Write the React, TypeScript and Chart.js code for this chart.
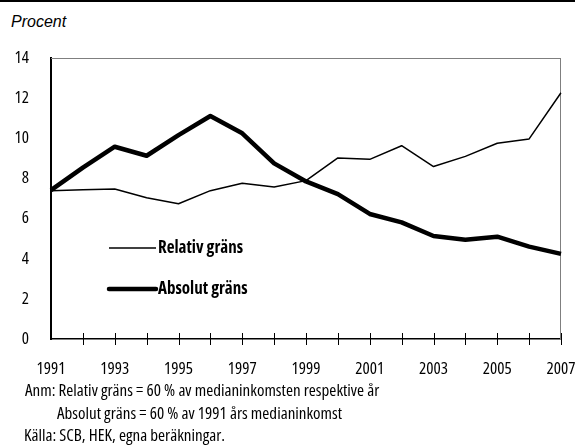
import React, { useEffect, useRef } from "react";
import { Chart, registerables } from "chart.js";

Chart.register(...registerables);

const years = ["1991","1992","1993","1994","1995","1996","1997","1998","1999","2000","2001","2002","2003","2004","2005","2006","2007"];
const relativ = [7.39, 7.44, 7.47, 7.04, 6.74, 7.39, 7.76, 7.57, 7.89, 9.02, 8.95, 9.63, 8.59, 9.1, 9.75, 9.97, 12.27];
const absolut = [7.42, 8.54, 9.58, 9.13, 10.16, 11.11, 10.25, 8.75, 7.85, 7.22, 6.23, 5.81, 5.13, 4.95, 5.1, 4.6, 4.24];
const seriesNames = ["Relativ gräns", "Absolut gräns"];
const yMin = 0;
const yMax = 14;
const yStep = 2;
const yAxisTitle = "Procent";
const notes = [
  "Anm: Relativ gräns = 60 % av medianinkomsten respektive år",
  "Absolut gräns = 60 % av 1991 års medianinkomst",
  "Källa: SCB, HEK, egna beräkningar.",
];

const FAMILY = "'Open Sans', 'Roboto Condensed', sans-serif";
const CANVAS_H = 380;

const framePlugin = {
  id: "frame",
  beforeDatasetsDraw(chart: any) {
    const { ctx, chartArea } = chart;
    const x = chart.scales.x;
    ctx.save();
    ctx.strokeStyle = "#7f7f7f";
    ctx.lineWidth = 1;
    ctx.beginPath();
    ctx.moveTo(chartArea.left, chartArea.top + 0.5);
    ctx.lineTo(chartArea.right, chartArea.top + 0.5);
    ctx.moveTo(chartArea.right - 0.5, chartArea.top);
    ctx.lineTo(chartArea.right - 0.5, chartArea.bottom);
    ctx.stroke();
    ctx.strokeStyle = "#000";
    ctx.lineWidth = 1;
    ctx.beginPath();
    for (let i = 1; i < years.length; i++) {
      const px = Math.round(x.getPixelForValue(i)) + 0.5;
      ctx.moveTo(px, chartArea.bottom - 6);
      ctx.lineTo(px, chartArea.bottom + 6);
    }
    ctx.stroke();
    ctx.restore();
  },
  afterDatasetsDraw(chart: any) {
    const { ctx, chartArea } = chart;
    ctx.save();
    const x0 = chartArea.left + 58;
    const x1 = chartArea.left + 105;
    const ys = [chartArea.top + 190, chartArea.top + 231];
    chart.data.datasets.forEach((ds: any, i: number) => {
      ctx.strokeStyle = "#000";
      ctx.lineWidth = ds.borderWidth;
      ctx.lineCap = i === 1 ? "round" : "butt";
      ctx.beginPath();
      ctx.moveTo(x0, ys[i]);
      ctx.lineTo(x1, ys[i]);
      ctx.stroke();
      ctx.fillStyle = "#000";
      ctx.font = `bold condensed 17px ${FAMILY}`;
      (ctx as any).fontStretch = "condensed";
      ctx.textBaseline = "middle";
      ctx.textAlign = "left";
      ctx.fillText(ds.label, x1 + 2, ys[i]);
    });
    ctx.restore();
  },
};

export default function App() {
  const ref = useRef<HTMLCanvasElement>(null);
  useEffect(() => {
    if (!ref.current) return;
    const tickFont = { family: FAMILY, size: 17, weight: "condensed" as any };
    const chart = new Chart(ref.current, {
      type: "line",
      data: {
        labels: years,
        datasets: [
          { label: seriesNames[0], data: relativ, borderColor: "#000", borderWidth: 1.5, pointRadius: 0, tension: 0, borderJoinStyle: "round" },
          { label: seriesNames[1], data: absolut, borderColor: "#000", borderWidth: 4.5, pointRadius: 0, tension: 0, borderJoinStyle: "round" },
        ],
      },
      options: {
        animation: false,
        responsive: false,
        maintainAspectRatio: false,
        layout: { padding: { top: 58, left: 0, right: 0, bottom: 0 } },
        plugins: { legend: { display: false }, tooltip: { enabled: false } },
        scales: {
          x: {
            type: "category",
            offset: false,
            grid: { display: false },
            border: { display: true, color: "#000", width: 1.5 },
            ticks: {
              autoSkip: false,
              maxRotation: 0,
              padding: 12,
              color: "#000",
              font: tickFont,
              callback: (_v: any, i: number) => (i % 2 === 0 ? years[i] : ""),
            },
            afterFit: (s: any) => { s.height = CANVAS_H - 339; s.paddingRight = 14; s.paddingLeft = 0; },
          },
          y: {
            min: yMin,
            max: yMax,
            grid: { display: false },
            border: { display: true, color: "#000", width: 2 },
            ticks: { stepSize: yStep, padding: 14, color: "#000", font: tickFont },
            afterFit: (s: any) => { s.width = 51; },
          },
        },
      },
      plugins: [framePlugin],
    });
    return () => chart.destroy();
  }, []);

  const noteStyle: React.CSSProperties = {
    position: "absolute",
    fontFamily: FAMILY,
    fontStretch: "condensed",
    fontSize: 17,
    lineHeight: "20px",
    color: "#000",
    whiteSpace: "nowrap",
  };

  return (
    <div style={{ position: "absolute", left: 0, top: 0, width: 575, height: 446, background: "#fff", overflow: "hidden" }}>
      <div style={{ position: "absolute", left: 0, top: 0, width: 575, height: 2, background: "#000" }} />
      <div style={{ position: "absolute", left: 11, top: 12, fontFamily: "'Liberation Sans', Arial, sans-serif", fontStyle: "italic", fontSize: 16, lineHeight: "20px" }}>{yAxisTitle}</div>
      <canvas ref={ref} width={575} height={CANVAS_H} style={{ position: "absolute", left: 0, top: 0, width: 575, height: CANVAS_H }} />
      <div style={{ ...noteStyle, left: 25, top: 380 }}>{notes[0]}</div>
      <div style={{ ...noteStyle, left: 57, top: 403 }}>{notes[1]}</div>
      <div style={{ ...noteStyle, left: 24, top: 425 }}>{notes[2]}</div>
    </div>
  );
}
